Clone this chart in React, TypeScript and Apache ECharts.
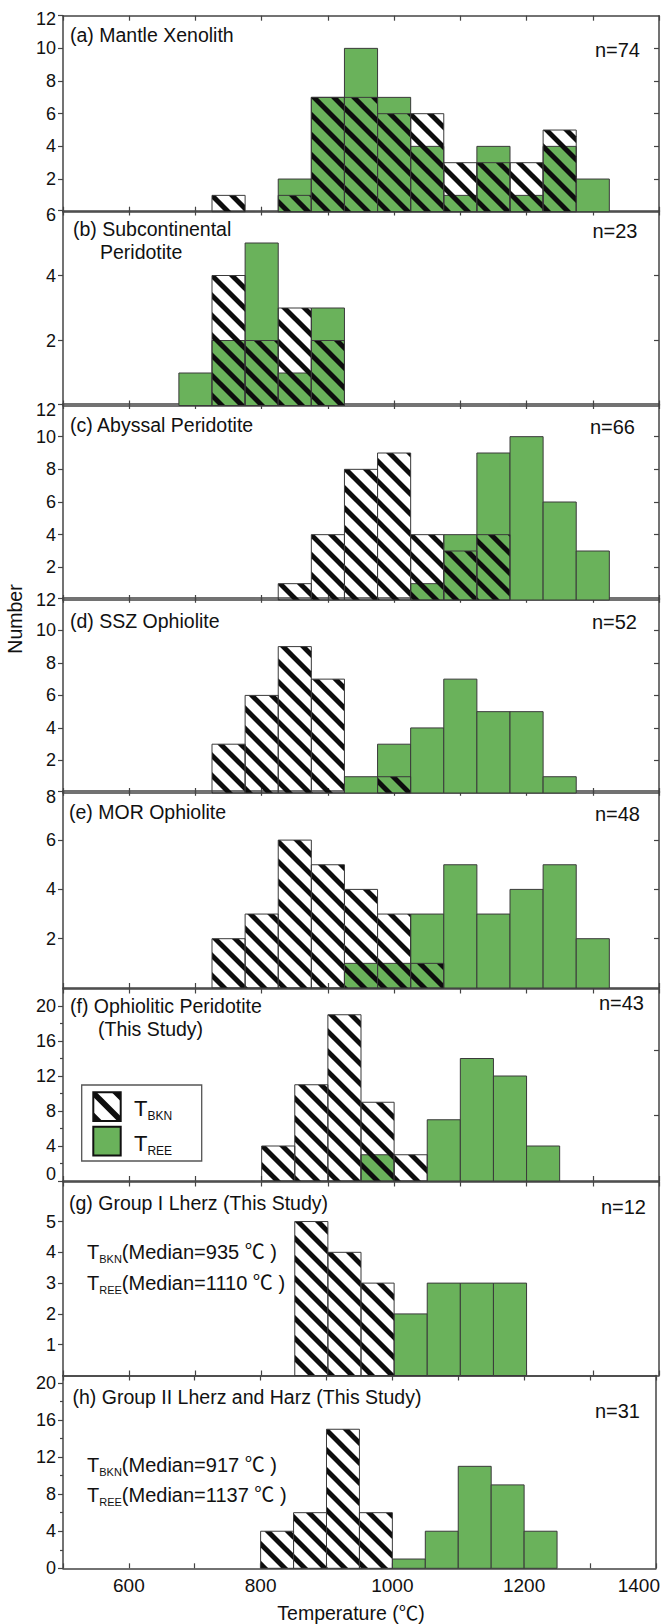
import React, { useEffect, useRef } from "react";
import * as echarts from "echarts";

// ---------------- data ----------------
const X_MIN = 500;
const X_MAX = 1400;
const BIN = 50;
const xTickLabels = [600, 800, 1000, 1200, 1400];

// (a) Mantle Xenolith
const aBinStart = 725;
const aBKN = [1, 0, 1, 7, 7, 6, 6, 3, 3, 3, 5, 0];
const aREE = [0, 0, 2, 7, 10, 7, 4, 1, 4, 1, 4, 2];
const aYLabels = [2, 4, 6, 8, 10, 12];

// (b) Subcontinental Peridotite
const bBinStart = 675;
const bBKN = [0, 4, 2, 3, 2];
const bREE = [1, 2, 5, 1, 3];
const bYLabels = [2, 4, 6];

// (c) Abyssal Peridotite
const cBinStart = 825;
const cBKN = [1, 4, 8, 9, 4, 3, 4, 0, 0, 0];
const cREE = [0, 0, 0, 0, 1, 4, 9, 10, 6, 3];
const cYLabels = [2, 4, 6, 8, 10, 12];

// (d) SSZ Ophiolite
const dBinStart = 725;
const dBKN = [3, 6, 9, 7, 0, 1, 0, 0, 0, 0, 0];
const dREE = [0, 0, 0, 0, 1, 3, 4, 7, 5, 5, 1];
const dYLabels = [2, 4, 6, 8, 10, 12];

// (e) MOR Ophiolite
const eBinStart = 725;
const eBKN = [2, 3, 6, 5, 4, 3, 1, 0, 0, 0, 0, 0];
const eREE = [0, 0, 0, 0, 1, 1, 3, 5, 3, 4, 5, 2];
const eYLabels = [2, 4, 6, 8];

// (f) Ophiolitic Peridotite (This Study)
const fBinStart = 800;
const fBKN = [4, 11, 19, 9, 3, 0, 0, 0, 0];
const fREE = [0, 0, 0, 3, 0, 7, 14, 12, 4];
const fYLabels = [0, 4, 8, 12, 16, 20];

// (g) Group I Lherz (This Study)
const gBinStart = 850;
const gBKN = [5, 4, 3, 0, 0, 0, 0];
const gREE = [0, 0, 0, 2, 3, 3, 3];
const gYLabels = [1, 2, 3, 4, 5];

// (h) Group II Lherz and Harz (This Study)
const hBinStart = 800;
const hBKN = [4, 6, 15, 6, 0, 0, 0, 0, 0];
const hREE = [0, 0, 0, 0, 1, 4, 11, 9, 4];
const hYLabels = [0, 4, 8, 12, 16, 20];

// ---------------- styling / layout ----------------
const GREEN = "#6ab25b";
const EDGE = "#3a3a3a";
const AX = "#444444";
const TXT = "#111111";
const FONT = "Liberation Sans, Arial, Noto Sans CJK SC, sans-serif";
const STRIPE_P = 20;
const STRIPE_W = 7;

type Panel = {
  start: number;
  bkn: number[];
  ree: number[];
  labels: number[];
  top: number;
  bottom: number;
  max: number;
  rightTicks: number[];
  minorTicks: number[];
  interval: number;
  topShift: number;
  raiseZero?: boolean;
  titles: { t: string; x: number; y: number }[];
  n: { t: string; x: number; y: number };
};

const PANELS: Panel[] = [
  { start: aBinStart, bkn: aBKN, ree: aREE, labels: aYLabels, top: 15.7, bottom: 211.7, max: 12, interval: 2,
    rightTicks: [2, 4, 6, 8, 10], minorTicks: [], topShift: 3,
    titles: [{ t: "(a) Mantle Xenolith", x: 70, y: 35 }], n: { t: "n=74", x: 640, y: 50 } },
  { start: bBinStart, bkn: bBKN, ree: bREE, labels: bYLabels, top: 210.5, bottom: 405.5, max: 6, interval: 2,
    rightTicks: [2, 4], minorTicks: [], topShift: 4,
    titles: [{ t: "(b) Subcontinental", x: 73, y: 229 }, { t: "Peridotite", x: 100, y: 252 }], n: { t: "n=23", x: 637.5, y: 231 } },
  { start: cBinStart, bkn: cBKN, ree: cREE, labels: cYLabels, top: 404, bottom: 600, max: 12, interval: 2,
    rightTicks: [2, 4, 6, 8, 10], minorTicks: [], topShift: 6,
    titles: [{ t: "(c) Abyssal Peridotite", x: 70, y: 425 }], n: { t: "n=66", x: 635, y: 427 } },
  { start: dBinStart, bkn: dBKN, ree: dREE, labels: dYLabels, top: 597.8, bottom: 793, max: 12, interval: 2,
    rightTicks: [2, 4, 6, 8, 10], minorTicks: [], topShift: 2,
    titles: [{ t: "(d) SSZ Ophiolite", x: 70, y: 621 }], n: { t: "n=52", x: 637, y: 622 } },
  { start: eBinStart, bkn: eBKN, ree: eREE, labels: eYLabels, top: 790.8, bottom: 988, max: 8, interval: 2,
    rightTicks: [2, 4, 6], minorTicks: [], topShift: 6,
    titles: [{ t: "(e) MOR Ophiolite", x: 69, y: 812 }], n: { t: "n=48", x: 640, y: 814 } },
  { start: fBinStart, bkn: fBKN, ree: fREE, labels: fYLabels, top: 988.5, bottom: 1181, max: 22, interval: 4,
    rightTicks: [7.5, 15], minorTicks: [2, 6, 10, 14, 18], topShift: 0, raiseZero: true,
    titles: [{ t: "(f) Ophiolitic Peridotite", x: 70, y: 1006 }, { t: "(This Study)", x: 98, y: 1029 }], n: { t: "n=43", x: 644, y: 1003 } },
  { start: gBinStart, bkn: gBKN, ree: gREE, labels: gYLabels, top: 1181.5, bottom: 1375.5, max: 6.3, interval: 1,
    rightTicks: [], minorTicks: [], topShift: 0,
    titles: [{ t: "(g) Group I Lherz (This Study)", x: 69, y: 1203 }], n: { t: "n=12", x: 646, y: 1207 } },
  { start: hBinStart, bkn: hBKN, ree: hREE, labels: hYLabels, top: 1375.5, bottom: 1568.3, max: 20.8, interval: 4,
    rightTicks: [], minorTicks: [2, 6, 10, 14, 18], topShift: 0,
    titles: [{ t: "(h) Group II Lherz and Harz (This Study)", x: 72.5, y: 1397 }], n: { t: "n=31", x: 640, y: 1411 } },
];

// ---------------- helpers ----------------
type Pt = [number, number];
function clipHalf(poly: Pt[], f: (p: Pt) => number): Pt[] {
  const out: Pt[] = [];
  for (let i = 0; i < poly.length; i++) {
    const a = poly[i];
    const b = poly[(i + 1) % poly.length];
    const fa = f(a);
    const fb = f(b);
    if (fa >= 0) out.push(a);
    if ((fa >= 0) !== (fb >= 0)) {
      const t = fa / (fa - fb);
      out.push([a[0] + t * (b[0] - a[0]), a[1] + t * (b[1] - a[1])]);
    }
  }
  return out;
}

function stripePolys(x: number, y: number, w: number, h: number, P: number, W: number, phase: number): Pt[][] {
  const rect: Pt[] = [[x, y], [x + w, y], [x + w, y + h], [x, y + h]];
  const lo = y - (x + w) - W;
  const hi = y + h - x;
  const res: Pt[][] = [];
  const k0 = Math.floor((lo - phase) / P) - 1;
  const k1 = Math.ceil((hi - phase) / P) + 1;
  for (let k = k0; k <= k1; k++) {
    const c = phase + k * P;
    let poly = clipHalf(rect, (p) => p[1] - p[0] - c);
    if (poly.length < 3) continue;
    poly = clipHalf(poly, (p) => c + W - (p[1] - p[0]));
    if (poly.length >= 3) res.push(poly);
  }
  return res;
}

function binsToData(start: number, vals: number[]) {
  return vals
    .map((v, k) => [start + k * BIN, start + (k + 1) * BIN, v])
    .filter((d) => d[2] > 0);
}

function makeRender(hatched: boolean) {
  return (_params: any, api: any) => {
    const x0 = api.value(0);
    const x1 = api.value(1);
    const v = api.value(2);
    const p1 = api.coord([x0, v]);
    const p2 = api.coord([x1, 0]);
    const rx = p1[0];
    const ry = p1[1];
    const rw = p2[0] - p1[0];
    const rh = p2[1] - p1[1];
    if (!hatched) {
      return {
        type: "rect",
        shape: { x: rx, y: ry, width: rw, height: rh },
        style: { fill: GREEN, stroke: EDGE, lineWidth: 1 },
      };
    }
    const children: any[] = stripePolys(rx, ry, rw, rh, STRIPE_P, STRIPE_W, 0).map((pts) => ({
      type: "polygon",
      shape: { points: pts },
      style: { fill: "#0d0d0d" },
    }));
    children.push({
      type: "rect",
      shape: { x: rx, y: ry, width: rw, height: rh },
      style: { fill: "none", stroke: EDGE, lineWidth: 1 },
    });
    return { type: "group", children };
  };
}

function txt(t: string, x: number, y: number, size: number, align = "left", extra: any = {}) {
  return {
    type: "text",
    x,
    y,
    silent: true,
    ...extra,
    style: {
      text: t,
      fontSize: size,
      fontFamily: FONT,
      fill: TXT,
      align,
      verticalAlign: "middle",
      ...(extra.style || {}),
    },
  };
}

function subText(main: string, sub: string, rest: string, x: number, y: number, size: number, subSize: number, pad: number) {
  return {
    type: "text",
    x,
    y,
    silent: true,
    style: {
      text: `{t|${main}}{s|${sub}}{m|${rest}}`,
      fontSize: size,
      fontFamily: FONT,
      fill: TXT,
      align: "left",
      verticalAlign: "middle",
      rich: {
        t: { fontSize: size, fontFamily: FONT, fill: TXT },
        s: { fontSize: subSize, fontFamily: FONT, fill: TXT, padding: [pad, 0, 0, 0] },
        m: { fontSize: size, fontFamily: FONT, fill: TXT },
      },
    },
  };
}

function buildOption() {
  const grid: any[] = [];
  const xAxis: any[] = [];
  const yAxis: any[] = [];
  const series: any[] = [];
  const graphic: any[] = [];
  const axisLine = { show: true, onZero: false, lineStyle: { color: AX, width: 1.5 } };

  PANELS.forEach((p, i) => {
    const isLast = i === PANELS.length - 1;
    grid.push({ left: 63, width: 596, top: p.top, height: p.bottom - p.top, containLabel: false });

    xAxis.push({
      type: "value", gridIndex: i, min: X_MIN, max: X_MAX, interval: 100, position: "bottom",
      axisLine,
      axisTick: { show: true, inside: true, length: 5, lineStyle: { color: AX, width: 1.2 } },
      splitLine: { show: false },
      axisLabel: {
        show: isLast,
        customValues: xTickLabels,
        margin: 8,
        fontSize: 19,
        fontFamily: FONT,
        color: TXT,
        formatter: (v: number) => {
          if (!xTickLabels.includes(v)) return "";
          if (v === X_MAX) return `{e|${v}}`;
          return String(v);
        },
        rich: { e: { fontSize: 19, fontFamily: FONT, color: TXT, padding: [0, 34, 0, 0] } },
      },
    });
    xAxis.push({
      type: "value", gridIndex: i, min: X_MIN, max: X_MAX, interval: 100, position: "top",
      axisLine,
      axisTick: { show: true, inside: true, length: 5, lineStyle: { color: AX, width: 1.2 } },
      splitLine: { show: false },
      axisLabel: { show: false },
    });

    const topVal = p.labels[p.labels.length - 1];
    yAxis.push({
      type: "value", gridIndex: i, min: 0, max: p.max, interval: p.interval, position: "left",
      axisLine,
      axisTick: { show: true, inside: false, length: 5, customValues: p.labels, lineStyle: { color: AX, width: 1.2 } },
      splitLine: { show: false },
      axisLabel: {
        customValues: p.labels,
        margin: 7,
        fontSize: 18,
        fontFamily: FONT,
        color: TXT,
        formatter: (v: number) => {
          if (!p.labels.includes(v)) return "";
          if (v === 0 && p.raiseZero) return `{z|0}`;
          if (v === topVal && p.topShift > 0) return `{d|${v}}`;
          return String(v);
        },
        rich: {
          z: { fontSize: 18, fontFamily: FONT, color: TXT, padding: [0, 0, 15, 0] },
          d: { fontSize: 18, fontFamily: FONT, color: TXT, padding: [p.topShift * 2, 0, 0, 0] },
        },
      },
    });
    yAxis.push({
      type: "value", gridIndex: i, min: 0, max: p.max, interval: p.interval, position: "right",
      axisLine,
      axisTick: {
        show: p.rightTicks.length > 0, inside: true, length: 5,
        customValues: p.rightTicks, lineStyle: { color: AX, width: 1.2 },
      },
      splitLine: { show: false },
      axisLabel: { show: false },
    });
    yAxis.push({
      type: "value", gridIndex: i, min: 0, max: p.max, interval: 2, position: "left",
      axisLine: { show: false, onZero: false },
      axisTick: {
        show: p.minorTicks.length > 0, inside: false, length: 3,
        customValues: p.minorTicks, lineStyle: { color: AX, width: 1.2 },
      },
      splitLine: { show: false },
      axisLabel: { show: false },
    });

    series.push({
      type: "custom", name: "T_REE", xAxisIndex: i * 2, yAxisIndex: i * 3,
      coordinateSystem: "cartesian2d", renderItem: makeRender(false),
      encode: { x: [0, 1], y: 2 }, data: binsToData(p.start, p.ree), z: 2, clip: false,
    });
    series.push({
      type: "custom", name: "T_BKN", xAxisIndex: i * 2, yAxisIndex: i * 3,
      coordinateSystem: "cartesian2d", renderItem: makeRender(true),
      encode: { x: [0, 1], y: 2 }, data: binsToData(p.start, p.bkn), z: 3, clip: false,
    });

    p.titles.forEach((t) => graphic.push(txt(t.t, t.x, t.y, 19.5)));
    graphic.push(txt(p.n.t, p.n.x, p.n.y, 20, "right"));
  });

  // median annotations
  graphic.push(subText("T", "BKN", "(Median=935 ℃ )", 87, 1252, 20, 11, 14));
  graphic.push(subText("T", "REE", "(Median=1110 ℃ )", 87, 1283, 20, 11, 14));
  graphic.push(subText("T", "BKN", "(Median=917 ℃ )", 87, 1465, 20, 11, 14));
  graphic.push(subText("T", "REE", "(Median=1137 ℃ )", 87, 1495, 20, 11, 14));

  // legend in panel f
  graphic.push({
    type: "rect", silent: true, z: 10,
    shape: { x: 81.7, y: 1085, width: 120, height: 76 },
    style: { fill: "#ffffff", stroke: "#555", lineWidth: 1.3 },
  });
  const sx = 93.3, sy1 = 1092.3, sw = 27.4, sh = 28.7, sy2 = 1126.7;
  const legPhase = sy1 + sh / 2 - (sx + sw / 2) - 4;
  stripePolys(sx, sy1, sw, sh, 23, 8, legPhase).forEach((pts) =>
    graphic.push({ type: "polygon", silent: true, z: 11, shape: { points: pts }, style: { fill: "#0d0d0d" } })
  );
  graphic.push({
    type: "rect", silent: true, z: 12,
    shape: { x: sx, y: sy1, width: sw, height: sh },
    style: { fill: "none", stroke: "#111", lineWidth: 2 },
  });
  graphic.push({
    type: "rect", silent: true, z: 12,
    shape: { x: sx, y: sy2, width: sw, height: sh },
    style: { fill: GREEN, stroke: "#111", lineWidth: 2 },
  });
  const leg1 = subText("T", "BKN", "", 134, 1108, 22, 12, 16);
  const leg2 = subText("T", "REE", "", 134, 1143, 22, 12, 16);
  (leg1 as any).z = 12;
  (leg2 as any).z = 12;
  graphic.push(leg1, leg2);

  // axis titles
  graphic.push(txt("Temperature (℃)", 351, 1613, 19.5, "center"));
  graphic.push(txt("Number", 15, 619, 19.5, "center", { rotation: Math.PI / 2 }));

  return {
    animation: false,
    backgroundColor: "#ffffff",
    grid,
    xAxis,
    yAxis,
    series,
    graphic: { elements: graphic },
  };
}

export default function App() {
  const ref = useRef<HTMLDivElement>(null);
  useEffect(() => {
    document.body.style.margin = "0";
    if (!ref.current) return;
    const chart = echarts.init(ref.current, undefined, { renderer: "svg" });
    chart.setOption(buildOption() as any);
    return () => chart.dispose();
  }, []);
  return <div ref={ref} style={{ width: 663, height: 1624 }} />;
}
